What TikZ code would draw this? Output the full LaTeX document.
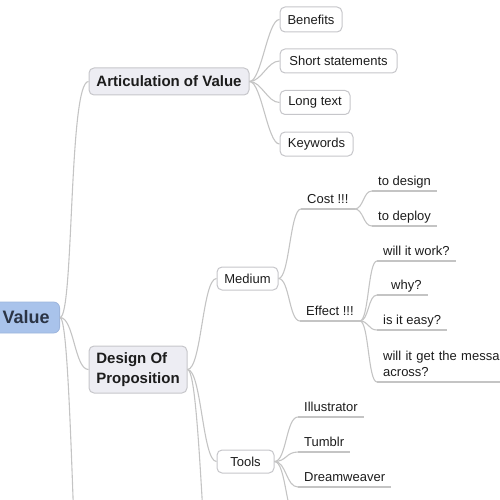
\documentclass[tikz,border=0pt]{standalone}
\usepackage{fontspec}
\setmainfont{Liberation Sans}
\definecolor{linec}{HTML}{C4C4C4}
\definecolor{boxborder}{HTML}{C6C6CA}
\definecolor{mainfill}{HTML}{EDEDF3}
\definecolor{rootfill}{HTML}{A9C3EB}
\definecolor{rootborder}{HTML}{9DB5DC}
\definecolor{roottext}{HTML}{2B3445}
\definecolor{textc}{HTML}{1C1C1C}
\begin{document}
\begin{tikzpicture}[x=1pt,y=-1pt,
  conn/.style={draw=linec, line width=1.1pt},
  rootbox/.style={draw=rootborder, fill=rootfill, rounded corners=6pt, line width=0.8pt,
    font=\fontsize{18}{21}\selectfont\bfseries, text=roottext, inner xsep=10pt, inner ysep=0pt,
    minimum height=31pt},
  mainbox/.style={draw=boxborder, fill=mainfill, rounded corners=5pt, line width=1pt,
    font=\fontsize{15}{20}\selectfont\bfseries, text=textc, inner sep=0pt, align=left},
  leafbox/.style={draw=boxborder, fill=white, rounded corners=5pt, line width=1pt,
    font=\fontsize{13}{16}\selectfont, text=textc, inner sep=0pt},
  ulbase/.style={font=\fontsize{13}{16}\selectfont, text=textc, inner xsep=6pt,
    inner ysep=0pt, anchor=south west, align=left},
  uline/.style={ulbase, text height=10pt, text depth=5pt},
]
\useasboundingbox (0,0) rectangle (500,500);

% root and main topics
\node[rootbox, anchor=east] (root) at (60,317.5) {\hspace*{2pt}Value};
\node[mainbox, minimum width=160pt, minimum height=27pt] (art) at (169,81.5) {Articulation of Value};
\node[mainbox, minimum width=98pt, minimum height=47pt] (dop) at (138,369.5) {Design Of\\Proposition};

% articulation children
\node[leafbox, minimum width=62pt, minimum height=25pt] (ben) at (311,19.5) {Benefits};
\node[leafbox, minimum width=117pt, minimum height=24pt] (short) at (338.5,61) {Short statements};
\node[leafbox, minimum width=70pt, minimum height=24pt] (long) at (315,102.5) {Long text};
\node[leafbox, minimum width=73pt, minimum height=24pt] (key) at (316.5,144) {Keywords};

% design children
\node[leafbox, minimum width=61pt, minimum height=23pt] (med) at (247.5,278.5) {Medium};
\node[leafbox, minimum width=57pt, minimum height=23pt] (tools) at (245.5,461.5) {Tools};

% underlined topics
\node[uline] (cost) at (301,209) {Cost !!!};
\node[uline] (effect) at (300,321) {Effect !!!};
\node[uline] (tdes) at (372,191) {to design};
\node[uline] (tdep) at (372,226) {to deploy};
\node[uline] (work) at (377,261) {will it work?};
\node[uline] (why) at (377,295) {\hspace*{8pt}why?};
\node[uline] (easy) at (377,330) {is it easy?};
\node[ulbase, text width=150pt] (msg) at (377,382) {will it get the message\\across?\rule[-5pt]{0pt}{5pt}};
\node[uline] (ill) at (298,417) {Illustrator};
\node[uline] (tum) at (298,452) {Tumblr};
\node[uline] (dream) at (298,487) {Dreamweaver};

\foreach \n in {cost,effect,tdes,tdep,work,why,easy,ill,tum,dream}
  \draw[conn] (\n.south west) -- (\n.south east);
\draw[conn] (msg.south west) -- ++(130,0);

% off-screen continuations
\coordinate (r3) at (92,760);
\coordinate (d3) at (218,650);
\coordinate (t4) at (298,522);

% connectors
\draw[conn] (root.east) .. controls +(14,0) and +(-20,0) .. (art.west);
\draw[conn] (root.east) .. controls +(14,0) and +(-14,0) .. (dop.west);
\draw[conn] (root.east) .. controls +(14,0) and +(-18,0) .. (r3);

\foreach \c in {ben,short,long,key}
  \draw[conn] (art.east) .. controls +(12,0) and +(-12,0) .. (\c.west);

\draw[conn] (dop.east) .. controls +(14,0) and +(-14,0) .. (med.west);
\draw[conn] (dop.east) .. controls +(14,0) and +(-14,0) .. (tools.west);
\draw[conn] (dop.east) .. controls +(14,0) and +(-14,0) .. (d3);

\draw[conn] (med.east) .. controls +(11,0) and +(-11,0) .. (cost.south west);
\draw[conn] (med.east) .. controls +(11,0) and +(-11,0) .. (effect.south west);

\draw[conn] (cost.south east) .. controls +(9,0) and +(-9,0) .. (tdes.south west);
\draw[conn] (cost.south east) .. controls +(9,0) and +(-9,0) .. (tdep.south west);

\foreach \c in {work,why,easy,msg}
  \draw[conn] (effect.south east) .. controls +(9,0) and +(-9,0) .. (\c.south west);

\foreach \c in {ill,tum,dream}
  \draw[conn] (tools.east) .. controls +(12,0) and +(-12,0) .. (\c.south west);
\draw[conn] (tools.east) .. controls +(12,0) and +(-12,0) .. (t4);
\end{tikzpicture}
\end{document}
